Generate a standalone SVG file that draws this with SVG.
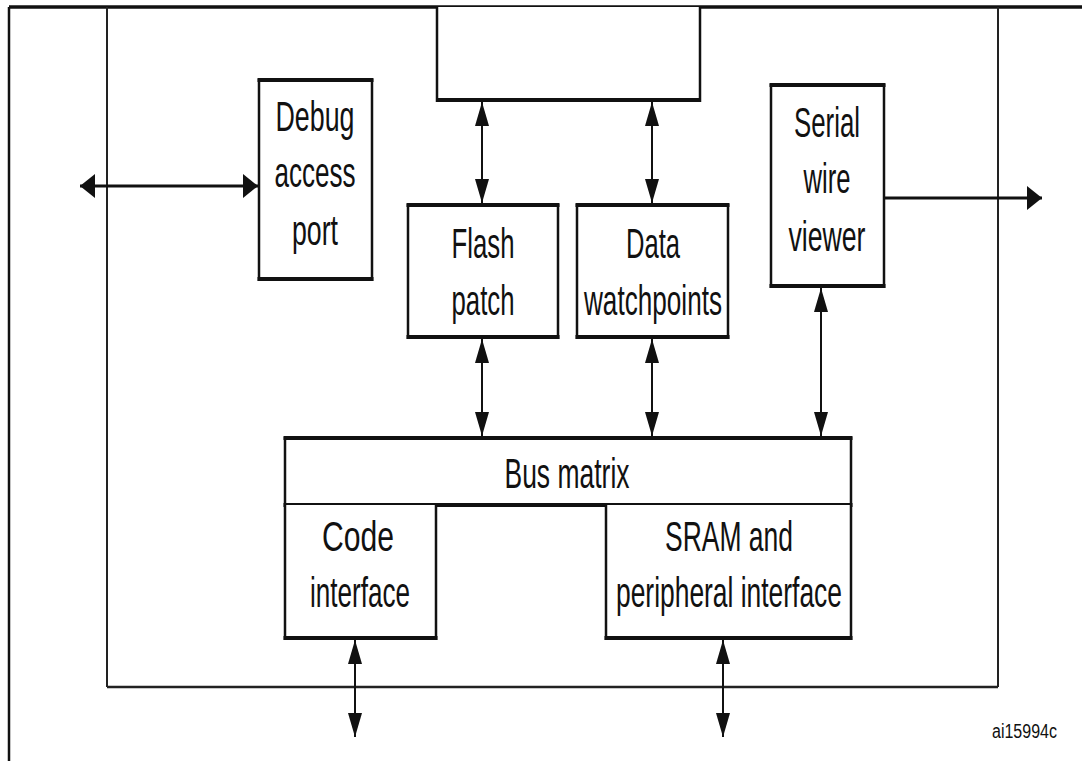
<svg xmlns="http://www.w3.org/2000/svg" width="1082" height="761" viewBox="0 0 1082 761">
<style>
  .bg{fill:#fff}
  .side{stroke:#111;stroke-width:2.5;fill:none}
  .edge{stroke:#111;stroke-width:4;fill:none}
  .frame{stroke:#222;stroke-width:2;fill:none}
  .frameT{stroke:#111;stroke-width:3.5;fill:none}
  .conn{stroke:#111;stroke-width:2;fill:none}
  .connH{stroke:#111;stroke-width:3;fill:none}
  text{font-family:"Liberation Sans",Arial,sans-serif;font-size:43px;fill:#111;text-anchor:middle}
  .small{font-size:20px;text-anchor:start}
</style>
<defs>
  <marker id="aV" markerUnits="userSpaceOnUse" markerWidth="26" markerHeight="16" refX="24" refY="7" orient="auto-start-reverse" viewBox="0 0 26 16">
    <path d="M0,0 L24,7 L0,14 Z" fill="#111"/>
  </marker>
  <marker id="aH" markerUnits="userSpaceOnUse" markerWidth="16" markerHeight="26" refX="15" refY="12" orient="auto-start-reverse" viewBox="0 0 16 26">
    <path d="M0,0 L15,12 L0,24 Z" fill="#111"/>
  </marker>
</defs>

<g id="frame">
  <line class="frameT" x1="9" y1="7" x2="1082" y2="7"/>
  <line class="frameT" x1="9" y1="7" x2="9" y2="761" style="stroke-width:2.5"/>
  <path class="frame" d="M107,7 V687 M998,7 V687"/>
  <line class="frame" x1="107" y1="687" x2="998" y2="687" style="stroke-width:2.5"/>
</g>

<g id="top-block">
  <rect class="bg" x="437" y="7" width="263" height="95"/>
  <path class="side" d="M437,7 V102 M700,7 V102"/>
  <path class="edge" d="M437,100 H700"/>
</g>

<g id="debug-access-port">
  <rect class="bg" x="259" y="79" width="113" height="201"/>
  <path class="side" d="M259,79 V281 M372,79 V281"/>
  <path class="edge" d="M257.5,80 H373.5 M257.5,279 H373.5"/>
  <text x="315" y="131" textLength="79" lengthAdjust="spacingAndGlyphs">Debug</text>
  <text x="315" y="187" textLength="81" lengthAdjust="spacingAndGlyphs">access</text>
  <text x="315" y="245" textLength="46" lengthAdjust="spacingAndGlyphs">port</text>
</g>

<g id="flash-patch">
  <rect class="bg" x="408" y="204" width="150" height="134"/>
  <path class="side" d="M408,204 V339 M558,204 V339"/>
  <path class="edge" d="M406.5,205 H559.5 M406.5,337 H559.5"/>
  <text x="483" y="258" textLength="63" lengthAdjust="spacingAndGlyphs">Flash</text>
  <text x="483" y="315" textLength="63" lengthAdjust="spacingAndGlyphs">patch</text>
</g>

<g id="data-watchpoints">
  <rect class="bg" x="577" y="204" width="151" height="134"/>
  <path class="side" d="M577,204 V339 M728,204 V339"/>
  <path class="edge" d="M575.5,205 H729.5 M575.5,337 H729.5"/>
  <text x="653" y="258" textLength="54" lengthAdjust="spacingAndGlyphs">Data</text>
  <text x="653" y="315" textLength="138" lengthAdjust="spacingAndGlyphs">watchpoints</text>
</g>

<g id="serial-wire-viewer">
  <rect class="bg" x="771" y="84" width="113" height="203"/>
  <path class="side" d="M771,84 V288 M884,84 V288"/>
  <path class="edge" d="M769.5,85 H885.5 M769.5,286 H885.5"/>
  <text x="827" y="137" textLength="66" lengthAdjust="spacingAndGlyphs">Serial</text>
  <text x="827" y="193" textLength="47" lengthAdjust="spacingAndGlyphs">wire</text>
  <text x="827" y="251" textLength="77" lengthAdjust="spacingAndGlyphs">viewer</text>
</g>

<g id="bus-matrix">
  <rect class="bg" x="285" y="437" width="566" height="68"/>
  <path class="side" d="M285,437 V505 M851,437 V505"/>
  <path class="edge" d="M283.5,438 H852.5 M283.5,505 H852.5"/>
  <text x="567" y="488" textLength="125" lengthAdjust="spacingAndGlyphs">Bus matrix</text>
</g>

<g id="code-interface">
  <rect class="bg" x="285" y="505" width="151" height="134"/>
  <path class="side" d="M285,505 V640 M436,505 V640"/>
  <path class="edge" d="M283.5,638 H437.5"/>
  <text x="358" y="551" textLength="72" lengthAdjust="spacingAndGlyphs">Code</text>
  <text x="360" y="607" textLength="100" lengthAdjust="spacingAndGlyphs">interface</text>
</g>

<g id="sram-peripheral-interface">
  <rect class="bg" x="606" y="505" width="245" height="134"/>
  <path class="side" d="M606,505 V640 M851,505 V640"/>
  <path class="edge" d="M604.5,638 H852.5"/>
  <text x="729" y="551" textLength="128" lengthAdjust="spacingAndGlyphs">SRAM and</text>
  <text x="729" y="607" textLength="226" lengthAdjust="spacingAndGlyphs">peripheral interface</text>
</g>

<g id="connectors">
  <line class="connH" x1="80" y1="186" x2="258" y2="186" marker-start="url(#aH)" marker-end="url(#aH)"/>
  <line class="connH" x1="885" y1="198" x2="1042" y2="198" marker-end="url(#aH)"/>
  <line class="conn" x1="482" y1="102" x2="482" y2="203" marker-start="url(#aV)" marker-end="url(#aV)"/>
  <line class="conn" x1="652" y1="102" x2="652" y2="203" marker-start="url(#aV)" marker-end="url(#aV)"/>
  <line class="conn" x1="482" y1="339" x2="482" y2="436" marker-start="url(#aV)" marker-end="url(#aV)"/>
  <line class="conn" x1="652" y1="339" x2="652" y2="436" marker-start="url(#aV)" marker-end="url(#aV)"/>
  <line class="conn" x1="821" y1="288" x2="821" y2="436" marker-start="url(#aV)" marker-end="url(#aV)"/>
  <line class="conn" x1="355" y1="640" x2="355" y2="737" marker-start="url(#aV)" marker-end="url(#aV)"/>
  <line class="conn" x1="723" y1="640" x2="723" y2="737" marker-start="url(#aV)" marker-end="url(#aV)"/>
</g>

<text class="small" x="992" y="738" textLength="65" lengthAdjust="spacingAndGlyphs">ai15994c</text>
</svg>
